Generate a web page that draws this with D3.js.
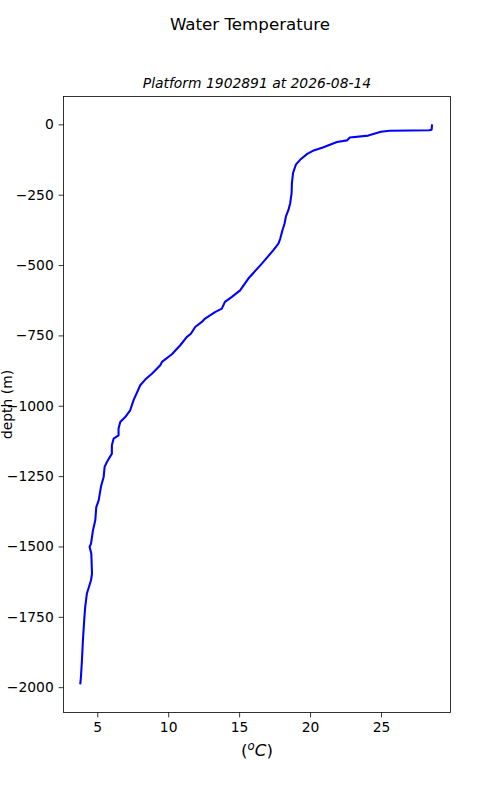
<!DOCTYPE html>
<html><head><meta charset="utf-8">
<script src="https://cdn.jsdelivr.net/npm/d3@7"></script>
<style>body{margin:0;background:#fff}svg{font-family:"DejaVu Sans",sans-serif}</style>
</head><body>
<script>
const depth = [0, -19, -21, -23, -26, -40, -47, -52, -57, -63, -82, -94, -105, -126, -143, -173, -210, -244, -280, -305, -327, -353, -377, -406, -424, -448, -495, -548, -590, -613, -631, -655, -667, -690, -702, -720, -744, -755, -785, -817, -844, -856, -886, -907, -927, -980, -1016, -1040, -1058, -1081, -1105, -1117, -1140, -1170, -1200, -1217, -1253, -1288, -1336, -1360, -1407, -1442, -1490, -1501, -1525, -1596, -1620, -1667, -1715, -1762, -1833, -1904, -1963, -1990];
const temp  = [28.6, 28.57, 28.4, 25.6, 25.0, 24.1, 22.8, 22.7, 22.6, 21.9, 20.9, 20.2, 19.8, 19.3, 19.0, 18.8, 18.72, 18.7, 18.6, 18.47, 18.3, 18.2, 18.05, 17.9, 17.77, 17.4, 16.6, 15.65, 15.07, 14.49, 14.0, 13.78, 13.3, 12.6, 12.37, 11.9, 11.6, 11.32, 10.85, 10.26, 9.56, 9.44, 8.85, 8.38, 8.03, 7.56, 7.32, 6.97, 6.62, 6.5, 6.5, 6.15, 6.03, 6.03, 5.68, 5.52, 5.45, 5.26, 5.1, 4.93, 4.86, 4.7, 4.56, 4.46, 4.58, 4.63, 4.56, 4.27, 4.15, 4.08, 3.99, 3.92, 3.85, 3.8];
const xTicks = [5, 10, 15, 20, 25];
const yTicks = [0, -250, -500, -750, -1000, -1250, -1500, -1750, -2000];
const title = "Water Temperature";
const subtitle = "Platform 1902891 at 2026-08-14";

const W = 500, H = 800;
const L = 63.5, R = 450.5, T = 96.5, B = 712.5;
const svg = d3.select("body").append("svg").attr("width", W).attr("height", H);
const x = d3.scaleLinear().domain([2.62, 29.9]).range([L, R]);
const y = d3.scaleLinear().domain([-2090, 99]).range([B, T]);
const fmt = d => (d < 0 ? "\u2212" + Math.abs(d) : "" + d);

svg.append("text").attr("x", 250).attr("y", 30).attr("text-anchor", "middle")
  .attr("font-size", 16.67).text(title);
svg.append("text").attr("x", 257).attr("y", 88).attr("text-anchor", "middle")
  .attr("font-size", 13.89).attr("font-style", "italic").text(subtitle);

const line = d3.line().x((d, i) => x(temp[i])).y(d => y(d));
svg.append("path").datum(depth).attr("d", line).attr("fill", "none")
  .attr("stroke", "#0000ff").attr("stroke-width", 2.08).attr("stroke-linejoin", "round");

const xa = svg.append("g").attr("transform", `translate(0,${B})`)
  .call(d3.axisBottom(x).tickValues(xTicks).tickSize(4.86).tickPadding(4.9).tickFormat(fmt));
const ya = svg.append("g").attr("transform", `translate(${L},0)`)
  .call(d3.axisLeft(y).tickValues(yTicks).tickSize(4.86).tickPadding(4.9).tickFormat(fmt));
[xa, ya].forEach(a => {
  a.select(".domain").remove();
  a.selectAll("line").attr("stroke", "#000").attr("stroke-width", 0.8);
  a.selectAll("text").attr("font-size", 13.89).attr("fill", "#000").attr("font-family", "DejaVu Sans");
});
svg.append("rect").attr("x", L).attr("y", T).attr("width", R - L).attr("height", B - T)
  .attr("fill", "none").attr("stroke", "#000").attr("stroke-width", 0.8);

const xl = svg.append("text").attr("x", 257).attr("y", 756).attr("text-anchor", "middle")
  .attr("font-size", 16.67);
xl.append("tspan").text("(");
xl.append("tspan").attr("font-style", "italic").attr("font-size", 11.7).attr("dy", -6).text("o");
xl.append("tspan").attr("font-style", "italic").attr("dy", 6).text("C");
xl.append("tspan").text(")");

svg.append("text").attr("transform", "translate(12,404.5) rotate(-90)")
  .attr("text-anchor", "middle").attr("font-size", 13.89).text("depth (m)");
</script>
</body></html>
